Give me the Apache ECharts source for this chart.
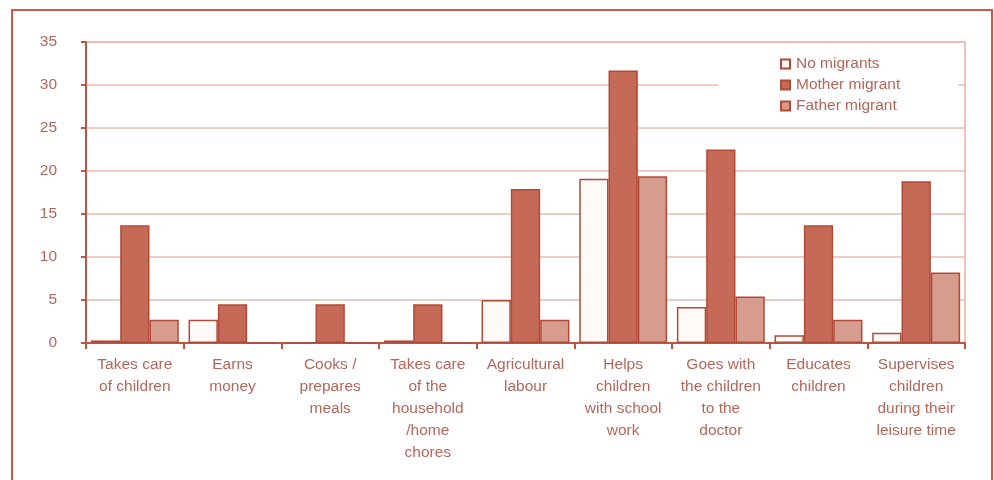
<!DOCTYPE html>
<html>
<head>
<meta charset="utf-8">
<style>
  html, body { margin: 0; padding: 0; background: #ffffff; }
  #chart { width: 994px; height: 480px; }
</style>
<script src="https://cdn.jsdelivr.net/npm/echarts@6/dist/echarts.min.js"></script>
</head>
<body>
<div id="chart"></div>
<script>
// Who looks after what: share of responses (%) by household migration status
const categories = [
  'Takes care\nof children',
  'Earns\nmoney',
  'Cooks /\nprepares\nmeals',
  'Takes care\nof the\nhousehold\n/home\nchores',
  'Agricultural\nlabour',
  'Helps\nchildren\nwith school\nwork',
  'Goes with\nthe children\nto the\ndoctor',
  'Educates\nchildren',
  'Supervises\nchildren\nduring their\nleisure time'
];
const noMigrants     = [0.3, 2.7, 0,   0.3, 5.0, 19.1, 4.2, 0.9, 1.2];
const motherMigrant  = [13.7, 4.5, 4.5, 4.5, 17.9, 31.7, 22.5, 13.7, 18.8];
const fatherMigrant  = [2.7, 0,   0,   0,   2.7, 19.4, 5.4, 2.7, 8.2];
const yTicks = [0, 5, 10, 15, 20, 25, 30, 35];

const textColor = '#b5665a';
const axisColor = '#c0543f';
const gridColor = '#ebbcb0';
const edgeColor = '#b24a38';
const fontSize = 15.5;

const chart = echarts.init(document.getElementById('chart'), null, { renderer: 'canvas' });

chart.setOption({
  animation: false,
  backgroundColor: '#ffffff',
  textStyle: { fontFamily: '"Liberation Sans", Arial, sans-serif' },
  graphic: [{
    type: 'rect',
    shape: { x: 12, y: 10, width: 980, height: 490 },
    style: { fill: 'none', stroke: '#d0573f', lineWidth: 2 },
    z: 100
  }],
  grid: {
    left: 86, right: 29, top: 42, bottom: 137,
    show: true,
    borderColor: '#e6b0a4',
    borderWidth: 1.5,
    backgroundColor: 'transparent'
  },
  legend: {
    orient: 'vertical',
    left: 718,
    top: 51,
    padding: [5, 58, 5, 62],
    backgroundColor: '#ffffff',
    itemWidth: 9,
    itemHeight: 9,
    itemGap: 5,
    icon: 'rect',
    z: 10,
    textStyle: { color: textColor, fontSize: fontSize, padding: [0, 0, 0, 1] },
    data: ['No migrants', 'Mother migrant', 'Father migrant']
  },
  xAxis: {
    type: 'category',
    data: categories,
    axisLine: { lineStyle: { color: axisColor, width: 2 } },
    axisTick: { show: true, alignWithLabel: false, length: 6, lineStyle: { color: axisColor, width: 2 } },
    axisLabel: {
      interval: 0,
      color: textColor,
      fontSize: fontSize,
      lineHeight: 22,
      margin: 11
    },
    splitLine: { show: false }
  },
  yAxis: {
    type: 'value',
    min: 0,
    max: 35,
    interval: 5,
    axisLine: { show: true, lineStyle: { color: axisColor, width: 2 } },
    axisTick: { show: true, length: 5, lineStyle: { color: axisColor, width: 2 } },
    axisLabel: {
      color: textColor,
      fontSize: fontSize,
      margin: 29,
      formatter: v => (yTicks.includes(v) ? String(v) : '')
    },
    splitLine: { lineStyle: { color: gridColor, width: 1.5 } }
  },
  series: [
    {
      name: 'No migrants',
      type: 'bar',
      data: noMigrants,
      barGap: '0%',
      barCategoryGap: '10%',
      itemStyle: { color: '#fffaf8', borderColor: edgeColor, borderWidth: 1.5 }
    },
    {
      name: 'Mother migrant',
      type: 'bar',
      data: motherMigrant,
      barGap: '0%',
      barCategoryGap: '10%',
      itemStyle: { color: '#c46a57', borderColor: edgeColor, borderWidth: 1.5 }
    },
    {
      name: 'Father migrant',
      type: 'bar',
      data: fatherMigrant,
      barGap: '0%',
      barCategoryGap: '10%',
      itemStyle: { color: '#d69c8e', borderColor: edgeColor, borderWidth: 1.5 }
    }
  ]
});
</script>
</body>
</html>
